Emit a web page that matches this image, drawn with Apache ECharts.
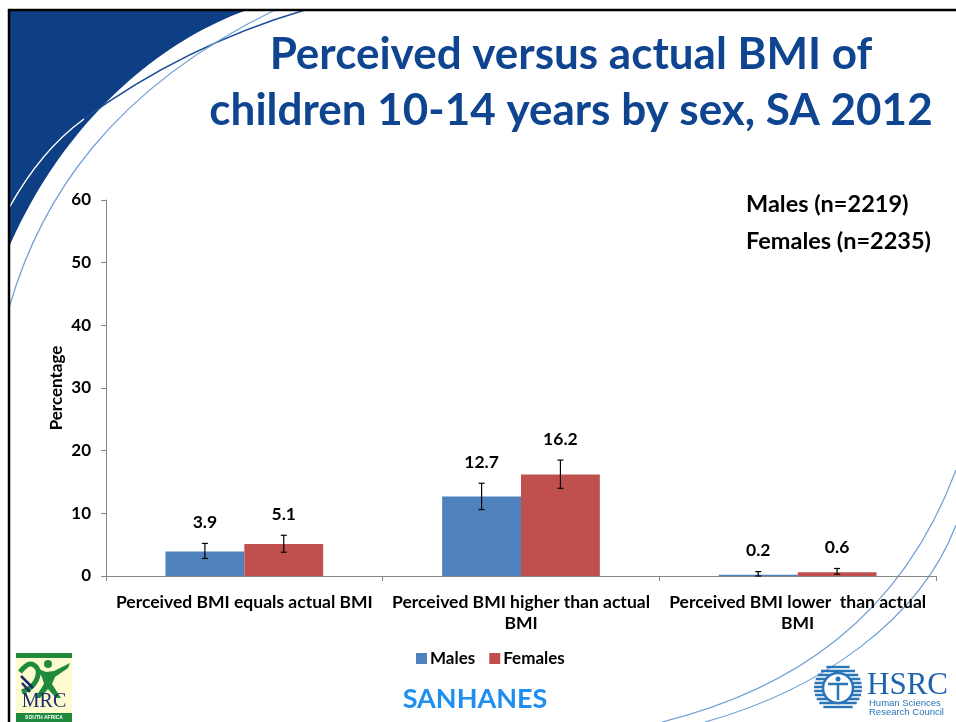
<!DOCTYPE html>
<html>
<head>
<meta charset="utf-8">
<script src="https://cdn.jsdelivr.net/npm/echarts@6/dist/echarts.min.js"></script>
<style>
  html, body { margin: 0; padding: 0; background: #ffffff; }
  #chart { width: 956px; height: 722px; }
</style>
</head>
<body>
<div id="chart"></div>
<script>
// Categories and survey values (percent)
const categories = [
  'Perceived BMI equals actual BMI',
  'Perceived BMI higher than actual\nBMI',
  'Perceived BMI lower  than actual\nBMI'
];
const yTicks = [0, 10, 20, 30, 40, 50, 60];
const males = [3.9, 12.7, 0.2];
const females = [5.1, 16.2, 0.6];
// 95% confidence interval bounds
const malesLow = [2.8, 10.6, 0.0];
const malesHigh = [5.2, 14.8, 0.7];
const femalesLow = [3.8, 14.0, 0.3];
const femalesHigh = [6.5, 18.5, 1.2];

const FONT = 'Lato, "Open Sans", sans-serif';
const CAT_GAP = 0.43;

const errorData = [];
categories.forEach((c, i) => {
  errorData.push([i, malesLow[i], malesHigh[i], 0, males[i]]);
  errorData.push([i, femalesLow[i], femalesHigh[i], 1, females[i]]);
});

function renderError(params, api) {
  const cat = api.value(0);
  const lo = api.value(1);
  const hi = api.value(2);
  const side = api.value(3);
  const val = api.value(4);
  const band = api.size([1, 0])[0];
  const barW = band * (1 - CAT_GAP) / 2;
  const cx = api.coord([cat, 0])[0] + (side === 0 ? -barW / 2 : barW / 2);
  const yLo = api.coord([cat, lo])[1];
  const yHi = api.coord([cat, hi])[1];
  const cap = 3;
  const st = { stroke: '#000000', lineWidth: 1.2 };
  return {
    type: 'group',
    children: [
      { type: 'line', shape: { x1: cx, y1: yLo, x2: cx, y2: yHi }, style: st },
      { type: 'line', shape: { x1: cx - cap, y1: yHi, x2: cx + cap, y2: yHi }, style: st },
      { type: 'line', shape: { x1: cx - cap, y1: yLo, x2: cx + cap, y2: yLo }, style: st },
      {
        type: 'text',
        x: cx, y: yHi - 21,
        style: {
          text: val.toFixed(1), fill: '#000000',
          font: 'bold 17.5px ' + FONT, align: 'center', verticalAlign: 'middle'
        }
      }
    ]
  };
}

// Sample a cubic Bezier into points for polygon shapes
function cubicPts(p0, c1, c2, p3, n) {
  const pts = [];
  for (let k = 0; k <= n; k++) {
    const t = k / n, u = 1 - t;
    const a = u * u * u, b = 3 * u * u * t, c = 3 * u * t * t, d = t * t * t;
    pts.push([
      a * p0[0] + b * c1[0] + c * c2[0] + d * p3[0],
      a * p0[1] + b * c1[1] + c * c2[1] + d * p3[1]
    ]);
  }
  return pts;
}
function curve(p0, c1, c2, p3, color, width) {
  return {
    type: 'bezierCurve', silent: true,
    shape: { x1: p0[0], y1: p0[1], cpx1: c1[0], cpy1: c1[1], cpx2: c2[0], cpy2: c2[1], x2: p3[0], y2: p3[1] },
    style: { stroke: color, lineWidth: width, fill: null }
  };
}

const cornerFill = [[9, 10]].concat(cubicPts([247, 10], [150, 45], [60, 130], [9, 247], 40));

const stripes = [];
for (let y = 667; y <= 709; y += 4) {
  const dy = y - 688;
  const half = Math.sqrt(Math.max(0, 24 * 24 - dy * dy));
  stripes.push({ type: 'line', silent: true, shape: { x1: 838 - half, y1: y, x2: 838 + half, y2: y }, style: { stroke: '#2a74b8', lineWidth: 2.4 } });
}

// Slide decorations: frame, swooshes and logos
const decor = [
  { type: 'polygon', silent: true, shape: { points: cornerFill }, style: { fill: '#0e3f85' } },
  curve([9, 208], [30, 170], [55, 140], [84, 119], '#ffffff', 1.5),
  curve([84, 119], [140, 78], [210, 38], [305, 10], '#1d4f96', 1.5),
  curve([9, 308], [40, 200], [110, 90], [275, 10], '#6f9fd6', 1.2),
  curve([662, 722], [790, 690], [900, 620], [956, 470], '#6f9fd6', 1.2),
  curve([705, 722], [820, 690], [920, 620], [956, 525], '#6f9fd6', 1.2),
  { type: 'line', silent: true, shape: { x1: 8, y1: 10, x2: 956, y2: 10 }, style: { stroke: '#000000', lineWidth: 2.5 } },
  { type: 'line', silent: true, shape: { x1: 9, y1: 9, x2: 9, y2: 722 }, style: { stroke: '#000000', lineWidth: 2.5 } },
  // MRC logo
  { type: 'rect', silent: true, shape: { x: 16, y: 653, width: 56, height: 5 }, style: { fill: '#1f8a3c' } },
  { type: 'rect', silent: true, shape: { x: 16, y: 658, width: 56, height: 55 }, style: { fill: '#fdfbd0' } },
  { type: 'polyline', silent: true, shape: { points: [[20, 672], [30, 664], [38, 670], [34, 684], [22, 692]], smooth: 0.4 }, style: { stroke: '#1f8a3c', lineWidth: 5, fill: null } },
  { type: 'line', silent: true, shape: { x1: 21, y1: 676, x2: 33, y2: 688 }, style: { stroke: '#1c2a6e', lineWidth: 2.5 } },
  { type: 'line', silent: true, shape: { x1: 22, y1: 683, x2: 30, y2: 692 }, style: { stroke: '#1c2a6e', lineWidth: 2.5 } },
  { type: 'circle', silent: true, shape: { cx: 48, cy: 664, r: 4 }, style: { fill: '#1f8a3c' } },
  { type: 'polygon', silent: true, shape: { points: [[36, 668], [46, 672], [54, 671], [70, 663], [68, 668], [55, 677], [52, 684], [61, 698], [56, 698], [48, 689], [40, 698], [35, 698], [44, 684], [42, 677]] }, style: { fill: '#1f8a3c' } },
  { type: 'text', silent: true, x: 44, y: 702, style: { text: 'MRC', font: '20px "Liberation Serif", serif', fill: '#1c2a6e', align: 'center', verticalAlign: 'middle' } },
  { type: 'rect', silent: true, shape: { x: 16, y: 713, width: 56, height: 9 }, style: { fill: '#1f8a3c' } },
  { type: 'text', silent: true, x: 44, y: 718, style: { text: 'SOUTH AFRICA', font: 'bold 5px sans-serif', fill: '#ffffff', align: 'center', verticalAlign: 'middle' } },
  // HSRC logo
  { type: 'group', silent: true, children: stripes },
  { type: 'circle', silent: true, shape: { cx: 838, cy: 688, r: 15 }, style: { fill: '#ffffff', stroke: '#2a74b8', lineWidth: 2.5 } },
  { type: 'circle', silent: true, shape: { cx: 838, cy: 679, r: 2.5 }, style: { fill: '#2a74b8' } },
  { type: 'line', silent: true, shape: { x1: 828, y1: 684, x2: 848, y2: 684 }, style: { stroke: '#2a74b8', lineWidth: 2.5 } },
  { type: 'line', silent: true, shape: { x1: 838, y1: 684, x2: 838, y2: 700 }, style: { stroke: '#2a74b8', lineWidth: 2.5 } },
  { type: 'text', silent: true, x: 867, y: 686, style: { text: 'HSRC', font: '31px "Liberation Serif", serif', fill: '#1d63ad', verticalAlign: 'middle' } },
  { type: 'text', silent: true, x: 869, y: 703, style: { text: 'Human Sciences', font: '9.5px "Liberation Sans", sans-serif', fill: '#2a74b8', verticalAlign: 'middle' } },
  { type: 'text', silent: true, x: 869, y: 712, style: { text: 'Research Council', font: '9.5px "Liberation Sans", sans-serif', fill: '#2a74b8', verticalAlign: 'middle' } },
  // Sample sizes and source
  { type: 'text', x: 746, y: 204, style: { text: 'Males (n=2219)', font: 'bold 23.5px ' + FONT, fill: '#000000', verticalAlign: 'middle' } },
  { type: 'text', x: 746, y: 241, style: { text: 'Females (n=2235)', font: 'bold 23.5px ' + FONT, fill: '#000000', verticalAlign: 'middle' } },
  { type: 'text', x: 475, y: 699, style: { text: 'SANHANES', font: 'bold 27px ' + FONT, fill: '#1e8ff0', align: 'center', verticalAlign: 'middle' } }
];

const chart = echarts.init(document.getElementById('chart'), null, { renderer: 'canvas' });
chart.setOption({
  animation: false,
  backgroundColor: '#ffffff',
  title: {
    text: 'Perceived versus actual BMI of\nchildren 10-14 years by sex, SA 2012',
    left: 566, top: 22, textAlign: 'center',
    textStyle: { fontFamily: FONT, fontWeight: 'bold', fontSize: 44, lineHeight: 56, color: '#0f4590' }
  },
  legend: {
    data: ['Males', 'Females'],
    left: 411, top: 645,
    itemWidth: 11, itemHeight: 11, itemGap: 14,
    icon: 'rect',
    textStyle: { fontFamily: FONT, fontWeight: 'bold', fontSize: 17, color: '#000000', padding: [0, 0, 0, -2] }
  },
  grid: { left: 106, right: 20, top: 200, bottom: 146, containLabel: false },
  xAxis: {
    type: 'category',
    data: categories,
    axisLine: { lineStyle: { color: '#868686', width: 1 } },
    axisTick: { show: true, length: 5, lineStyle: { color: '#868686' } },
    axisLabel: { fontFamily: FONT, fontWeight: 'bold', fontSize: 17.5, color: '#000000', margin: 16, lineHeight: 21, interval: 0 }
  },
  yAxis: {
    type: 'value',
    min: 0, max: 60, interval: 10,
    name: 'Percentage',
    nameLocation: 'middle',
    nameGap: 41,
    nameMoveOverlap: false,
    nameRotate: 90,
    nameTextStyle: { fontFamily: FONT, fontWeight: 'bold', fontSize: 17, color: '#000000' },
    axisLine: { show: true, lineStyle: { color: '#868686', width: 1 } },
    axisTick: { show: true, length: 5, lineStyle: { color: '#868686' } },
    splitLine: { show: false },
    axisLabel: {
      fontFamily: FONT, fontWeight: 'bold', fontSize: 17, color: '#000000', margin: 15,
      formatter: v => (yTicks.indexOf(v) >= 0 ? String(v) : '')
    }
  },
  series: [
    {
      name: 'Males', type: 'bar', data: males,
      barGap: '0%', barCategoryGap: (CAT_GAP * 100) + '%',
      itemStyle: { color: '#4f81bd' }
    },
    {
      name: 'Females', type: 'bar', data: females,
      barGap: '0%', barCategoryGap: (CAT_GAP * 100) + '%',
      itemStyle: { color: '#c0504d' }
    },
    {
      name: 'CI', type: 'custom', data: errorData,
      renderItem: renderError, z: 10, silent: true,
      encode: { x: 0, y: [1, 2] }
    }
  ],
  graphic: { elements: decor }
});
</script>
</body>
</html>
